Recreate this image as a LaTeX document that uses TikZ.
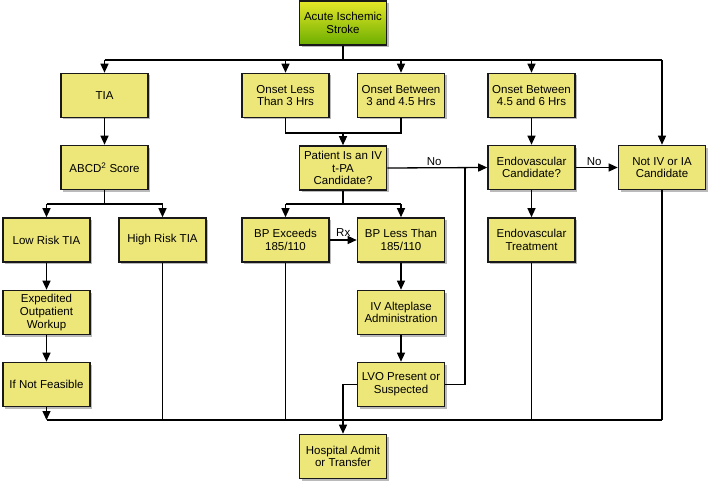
\documentclass[tikz,border=0pt]{standalone}
\usepackage{fontspec}
\setmainfont{Liberation Sans}
\usetikzlibrary{arrows.meta,shadows,calc}
\definecolor{boxfill}{RGB}{237,231,122}
\definecolor{topyel}{RGB}{230,232,40}
\definecolor{botgrn}{RGB}{108,174,0}
\begin{document}
\begin{tikzpicture}[x=1pt,y=-1pt,
  every node/.style={font=\fontsize{11.5}{12.7}\selectfont},
  box/.style={draw=black!90,line width=1.6pt,fill=boxfill,minimum width=87pt,minimum height=44pt,
    align=center,inner sep=1pt,drop shadow={shadow xshift=2pt,shadow yshift=-2pt,fill=black!45,opacity=0.6}},
  conn/.style={line width=1.3pt,draw=black},
  arr/.style={conn,-{Triangle[length=9pt,width=8pt]}},
  lbl/.style={inner sep=1.5pt,anchor=south}]
\useasboundingbox (0,0) rectangle (709,484);
% nodes
\node[box,top color=topyel,bottom color=botgrn] (stroke) at (343,23) {Acute Ischemic\\Stroke};
\node[box] (tia) at (104.5,95.5) {TIA};
\node[box] (onset3) at (285.5,95.5) {Onset Less\\Than 3 Hrs};
\node[box] (onset45) at (401,95.5) {Onset Between\\3 and 4.5 Hrs};
\node[box] (onset6) at (531.5,95.5) {Onset Between\\4.5 and 6 Hrs};
\node[box] (abcd) at (104.5,167.5) {ABCD\textsuperscript{2} Score};
\node[box] (patient) at (343,168) {Patient Is an IV\\t-PA\\Candidate?};
\node[box] (endo) at (531.5,167.5) {Endovascular\\Candidate?};
\node[box] (notiv) at (662,167.5) {Not IV or IA\\Candidate};
\node[box] (low) at (46.5,240) {Low Risk TIA};
\node[box] (high) at (162.5,240) {High Risk TIA};
\node[box] (bpex) at (285.5,240) {BP Exceeds\\185/110};
\node[box] (bpless) at (401,240) {BP Less Than\\185/110};
\node[box] (endot) at (531.5,240) {Endovascular\\Treatment};
\node[box] (exped) at (46.5,312.5) {Expedited\\Outpatient\\Workup};
\node[box] (ivalt) at (401,312.5) {IV Alteplase\\Administration};
\node[box] (ifnot) at (46.5,384.5) {If Not Feasible};
\node[box] (lvo) at (401,384.5) {LVO Present or\\Suspected};
\node[box] (hosp) at (343,456.5) {Hospital Admit\\or Transfer};
% junction coordinates
\coordinate (h1) at (343,60);
\coordinate (j1) at (343,133);
\coordinate (j2) at (343,204);
\coordinate (j3) at (104.5,204);
\coordinate (bot) at (343,420);
\coordinate (vx) at (465,168);
\coordinate (lx) at (343,384.5);
% top distribution
\draw[conn] (stroke.south) -- (h1);
\draw[conn] (tia.north |- h1) -- (notiv.north |- h1);
\foreach \n in {tia,onset3,onset45,onset6,notiv}
  \draw[arr] (\n.north |- h1) -- (\n.north);
% onset merge
\draw[conn] (onset3.south) -- (onset3.south |- j1) -- (onset45.south |- j1) -- (onset45.south);
\draw[arr] (j1) -- (patient.north);
% patient branches
\draw[conn] (patient.south) -- (j2);
\draw[conn] (bpex.north |- j2) -- (bpless.north |- j2);
\draw[arr] (bpex.north |- j2) -- (bpex.north);
\draw[arr] (bpless.north |- j2) -- (bpless.north);
\draw[arr] (patient.east) -- node[lbl,pos=0.47] {No} (endo.west);
\draw[arr] (bpex.east) -- node[lbl,pos=0.5,inner sep=3pt] {Rx} (bpless.west);
\draw[arr] (bpless) -- (ivalt);
\draw[arr] (ivalt) -- (lvo);
% TIA side
\draw[arr] (tia) -- (abcd);
\draw[conn] (abcd.south) -- (j3);
\draw[conn] (low.north |- j3) -- (high.north |- j3);
\draw[arr] (low.north |- j3) -- (low.north);
\draw[arr] (high.north |- j3) -- (high.north);
\draw[arr] (low) -- (exped);
\draw[arr] (exped) -- (ifnot);
% endovascular
\draw[arr] (onset6) -- (endo);
\draw[arr] (endo) -- node[lbl,pos=0.44] {No} (notiv);
\draw[arr] (endo) -- (endot);
% LVO loop
\draw[conn] (lvo.east) -- (vx |- lvo.east) -- (vx);
\draw[arr] (lvo.west) -- (lx) -- (hosp.north);
% bottom collector
\draw[arr] (ifnot.south) -- (ifnot.south |- bot);
\draw[conn] (ifnot.south |- bot) -- (notiv.south |- bot);
\foreach \n in {high,bpex,endot,notiv}
  \draw[conn] (\n.south) -- (\n.south |- bot);
\end{tikzpicture}
\end{document}
